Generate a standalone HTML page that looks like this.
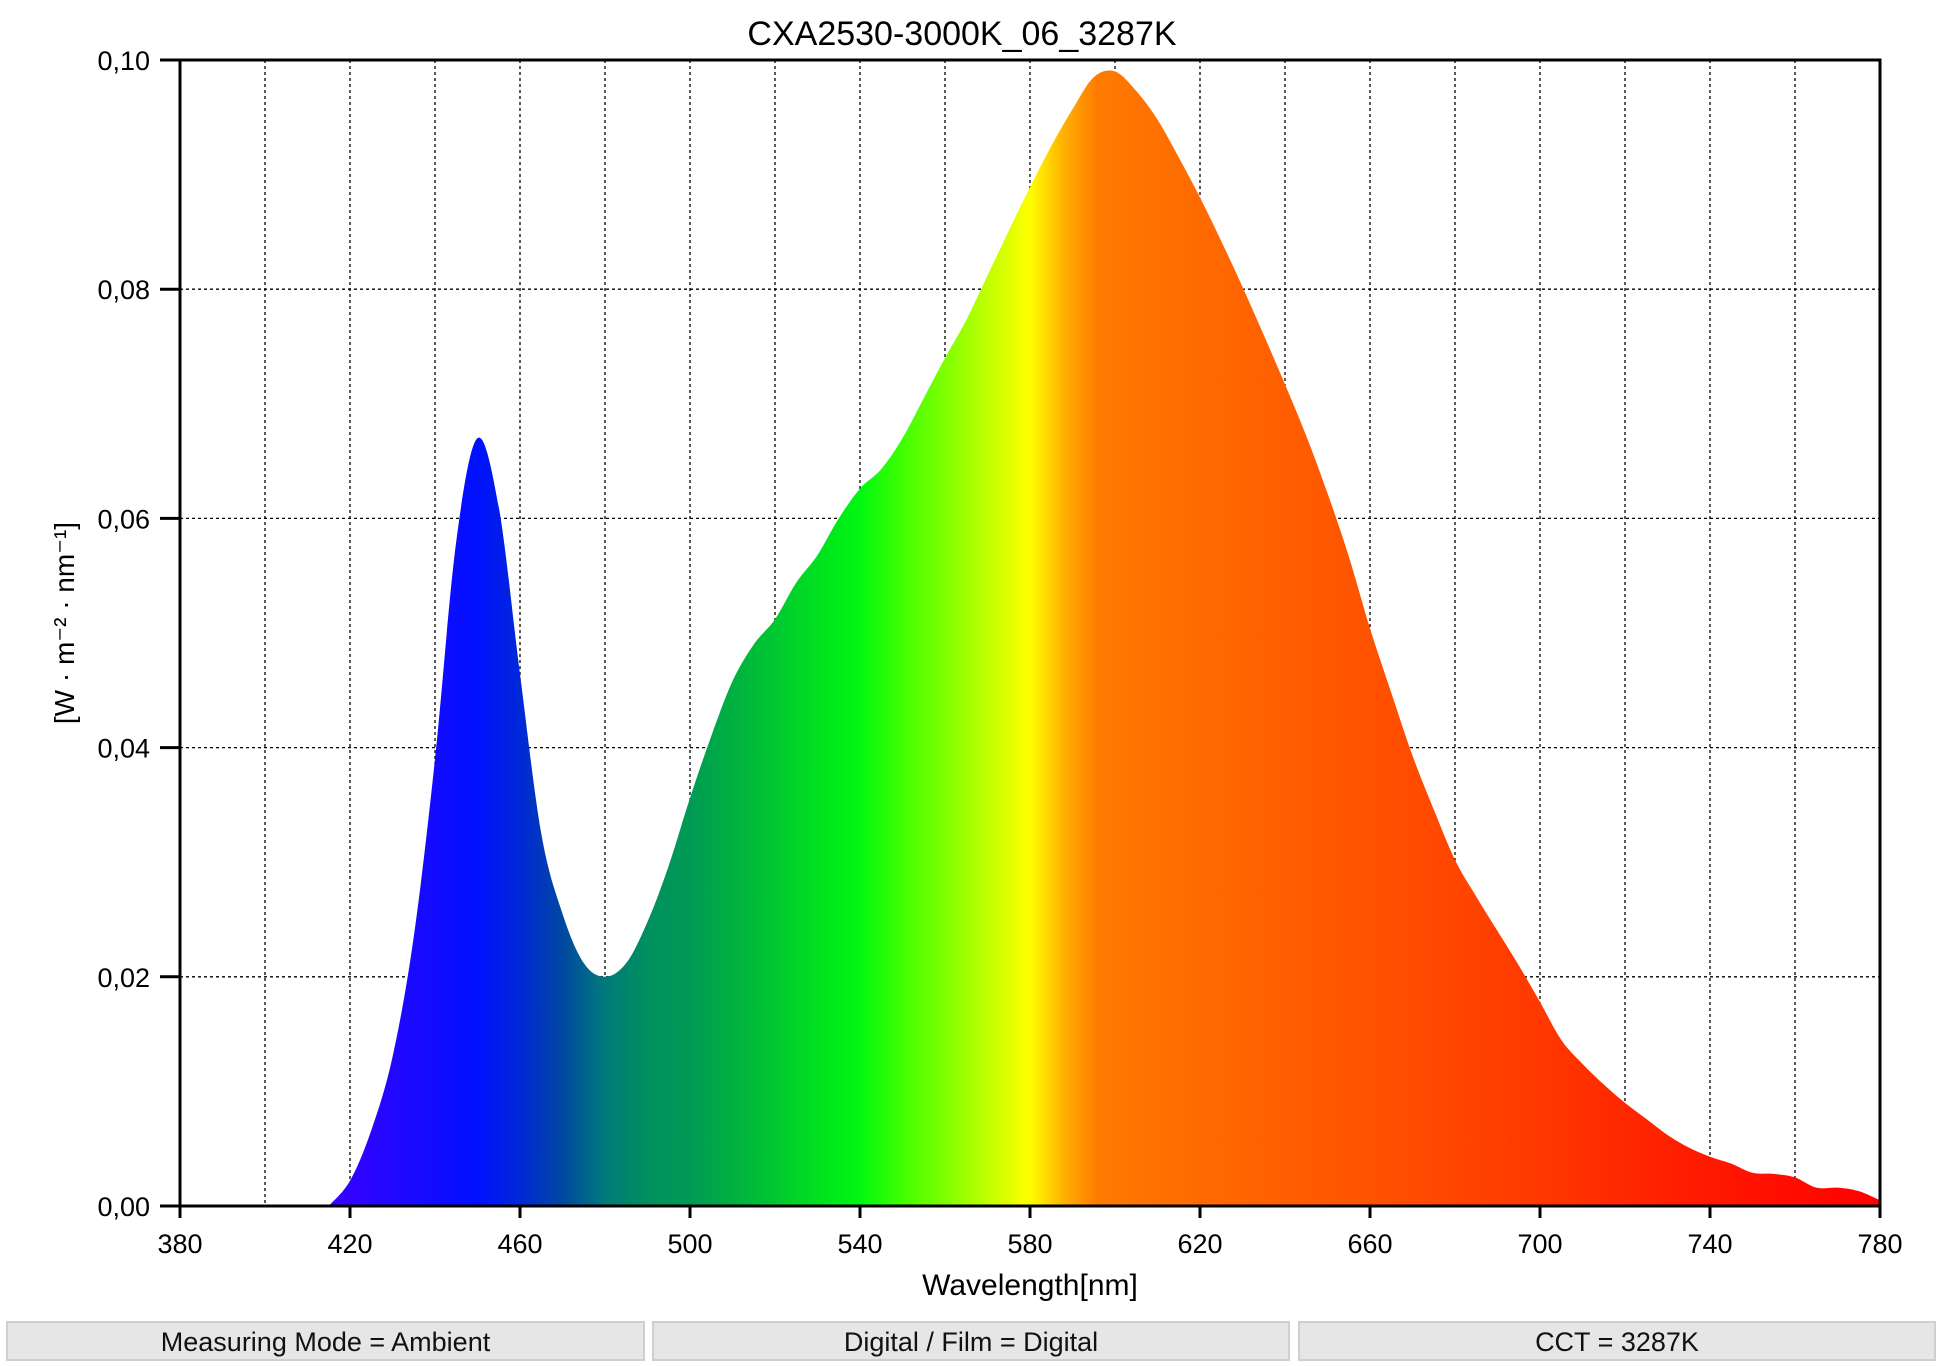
<!DOCTYPE html>
<html><head><meta charset="utf-8"><style>
html,body{margin:0;padding:0;background:#fff;}
body{width:1940px;height:1366px;position:relative;overflow:hidden;font-family:"Liberation Sans",sans-serif;}
.box{position:absolute;top:1321px;height:40px;background:#e6e6e6;border:2px solid #cfcfcf;box-sizing:border-box;font-size:27px;line-height:38px;text-align:center;color:#111;}
</style></head><body>
<svg id="chart" width="1940" height="1320" style="position:absolute;left:0;top:0" xmlns="http://www.w3.org/2000/svg">
<defs><linearGradient id="spec" gradientUnits="userSpaceOnUse" x1="180" y1="0" x2="1880" y2="0"></linearGradient></defs>
<text x="962" y="45" font-size="34" text-anchor="middle" font-family="Liberation Sans">CXA2530-3000K_06_3287K</text>
<g id="grid"></g>
<path id="area" fill="url(#spec)"></path>
<g id="axes"></g>
<text x="1030" y="1295" font-size="30" text-anchor="middle" font-family="Liberation Sans">Wavelength[nm]</text>
<text transform="translate(74,623) rotate(-90)" font-size="28" text-anchor="middle" font-family="Liberation Sans">[W · m⁻² · nm⁻¹]</text>
</svg>
<div class="box" style="left:6px;width:639px">Measuring Mode = Ambient</div>
<div class="box" style="left:652px;width:638px">Digital / Film = Digital</div>
<div class="box" style="left:1298px;width:638px">CCT = 3287K</div>
<script>
const wavelengths=[415,420,425,430,435,440,445,450,455,460,465,470,475,480,485,490,495,500,505,510,515,520,525,530,535,540,545,550,555,560,565,570,575,580,585,590,595,600,605,610,615,620,625,630,635,640,645,650,655,660,665,670,675,680,685,690,695,700,705,710,715,720,725,730,735,740,745,750,755,760,765,770,775,780];
const irradiance=[0,0.0022,0.0066,0.013,0.0235,0.039,0.058,0.067,0.061,0.0464,0.0325,0.0255,0.0212,0.020,0.0212,0.0248,0.0297,0.0356,0.041,0.0458,0.049,0.0512,0.0544,0.0568,0.060,0.0626,0.0643,0.067,0.0705,0.074,0.0773,0.0812,0.0851,0.0889,0.0925,0.0957,0.0985,0.0990,0.0973,0.0948,0.0915,0.088,0.0842,0.0802,0.076,0.0717,0.0672,0.0622,0.0567,0.0504,0.0448,0.0393,0.0346,0.0302,0.027,0.024,0.021,0.0178,0.0145,0.0124,0.0106,0.009,0.0076,0.0062,0.0051,0.0043,0.0037,0.0029,0.0028,0.0025,0.0016,0.0016,0.0013,0.0005];
const xTicks=[380,420,460,500,540,580,620,660,700,740,780];
const xGrid=[400,420,440,460,480,500,520,540,560,580,600,620,640,660,680,700,720,740,760];
const yTicks=[0,0.02,0.04,0.06,0.08,0.10];
const yTickLabels=["0,00","0,02","0,04","0,06","0,08","0,10"];
const X0=180,X1=1880,Y0=1206,Y1=60;
const xs=w=>X0+(w-380)/(780-380)*(X1-X0);
const ys=v=>Y0-v/0.1*(Y0-Y1);
const NS="http://www.w3.org/2000/svg";
function mk(tag,attrs,parent){const e=document.createElementNS(NS,tag);for(const k in attrs)e.setAttribute(k,attrs[k]);parent.appendChild(e);return e;}
const stops=[[415,"#3a00ff"],[450,"#0010ff"],[460,"#0028d8"],[470,"#0048a0"],[480,"#007a7a"],[490,"#00905e"],[500,"#009a55"],[510,"#00b040"],[520,"#00c830"],[530,"#00e020"],[540,"#00f810"],[550,"#40ff00"],[560,"#80ff00"],[570,"#c0ff00"],[580,"#ffff00"],[588,"#ffb000"],[596,"#ff7a00"],[620,"#ff6a00"],[660,"#ff5200"],[700,"#ff3800"],[740,"#ff1800"],[780,"#ff0000"]];
const g=document.getElementById('spec');
stops.forEach(s=>{mk('stop',{offset:((xs(s[0])-X0)/(X1-X0)).toFixed(4),'stop-color':s[1]},g);});
const grid=document.getElementById('grid');
xGrid.forEach(w=>{const l=mk('line',{x1:xs(w),x2:xs(w),y1:Y1,y2:Y0,stroke:'#000','stroke-width':1.3,'stroke-dasharray':'3,3'},grid);

});
yTicks.slice(1,5).forEach(v=>{const l=mk('line',{x1:X0,x2:X1,y1:ys(v),y2:ys(v),stroke:'#000','stroke-width':1.3,'stroke-dasharray':'3,3'},grid);

});
const pts=wavelengths.map((w,i)=>[xs(w),ys(irradiance[i])]);
let d=`M${pts[0][0]},${Y0} L${pts[0][0]},${pts[0][1]}`;
for(let i=0;i<pts.length-1;i++){const p0=pts[Math.max(i-1,0)],p1=pts[i],p2=pts[i+1],p3=pts[Math.min(i+2,pts.length-1)];const t=1/6;
d+=` C${p1[0]+(p2[0]-p0[0])*t},${p1[1]+(p2[1]-p0[1])*t} ${p2[0]-(p3[0]-p1[0])*t},${p2[1]-(p3[1]-p1[1])*t} ${p2[0]},${p2[1]}`;}
d+=` L${pts[pts.length-1][0]},${Y0} Z`;
document.getElementById('area').setAttribute('d',d);
const ax=document.getElementById('axes');
mk('rect',{x:X0,y:Y1,width:X1-X0,height:Y0-Y1,fill:'none',stroke:'#000','stroke-width':3},ax);
xTicks.forEach(w=>{mk('line',{x1:xs(w),x2:xs(w),y1:Y0,y2:Y0+12,stroke:'#000','stroke-width':3},ax);
const t=mk('text',{x:xs(w),y:Y0+47,'font-size':27,'text-anchor':'middle','font-family':'Liberation Sans'},ax);t.textContent=w;

});
xGrid.forEach(w=>{if(w%40)mk('line',{x1:xs(w),x2:xs(w),y1:Y0,y2:Y0+6,stroke:'#000','stroke-width':2},ax);});
yTicks.forEach((v,i)=>{mk('line',{x1:X0-20,x2:X0,y1:ys(v),y2:ys(v),stroke:'#000','stroke-width':3},ax);
const t=mk('text',{x:X0-30,y:ys(v)+10,'font-size':27,'text-anchor':'end','font-family':'Liberation Sans'},ax);t.textContent=yTickLabels[i];

});
</script>
</body></html>
